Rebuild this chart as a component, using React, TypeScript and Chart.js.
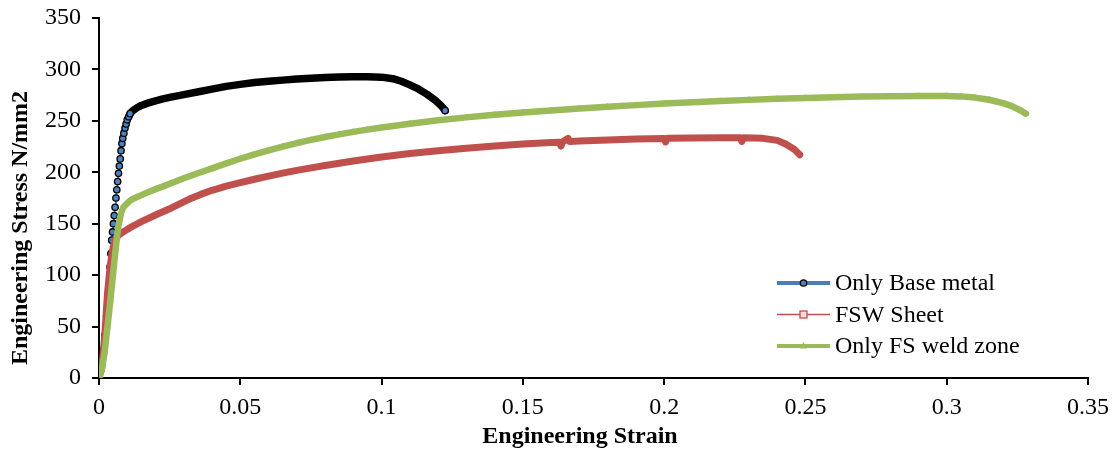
import React, { useEffect, useRef } from "react";
import { Chart, registerables } from "chart.js";

Chart.register(...registerables);

const FONT = '"Liberation Serif", "Times New Roman", serif';

const seriesNames = ["Only Base metal", "FSW Sheet", "Only FS weld zone"];
const xTickLabels = ["0", "0.05", "0.1", "0.15", "0.2", "0.25", "0.3", "0.35"];
const yTickLabels = ["0", "50", "100", "150", "200", "250", "300", "350"];
const xTitle = "Engineering Strain";
const yTitle = "Engineering Stress N/mm2";

const baseStrain = [
  0, 0.0008, 0.0015, 0.0021, 0.0027, 0.0031, 0.0035, 0.0039, 0.0042, 0.0045, 0.0048, 0.0051,
  0.0054, 0.0057, 0.006, 0.0063, 0.0066, 0.0069, 0.0072, 0.0075, 0.0078, 0.0081, 0.0084,
  0.0088, 0.0092, 0.0096, 0.01, 0.0105, 0.011, 0.012, 0.0133, 0.015, 0.0175, 0.02, 0.0226,
  0.025, 0.03, 0.0357, 0.04, 0.045, 0.05, 0.055, 0.06, 0.065, 0.07, 0.075, 0.08, 0.085, 0.09,
  0.095, 0.1, 0.104, 0.107, 0.11, 0.113, 0.116, 0.119, 0.121, 0.1225,
];
const baseStress = [
  0, 12, 27, 42, 60, 72, 88, 108, 121, 134, 142, 150, 158, 166, 175, 183, 191, 199, 206, 213,
  221, 228, 233, 238, 243, 247, 251, 254, 257, 260, 262.5, 265, 267.5, 269.5, 271.3, 272.8,
  275.5, 278.5, 280.8, 283.5, 285.5, 287.2, 288.5, 289.6, 290.6, 291.5, 292.2, 292.7, 293,
  293, 292.5, 291, 288.5, 285, 281, 276, 270, 265, 260,
];

const fswStrain = [
  0, 0.001, 0.002, 0.003, 0.004, 0.005, 0.006, 0.007, 0.008, 0.01, 0.0125, 0.015, 0.0169, 0.02,
  0.025, 0.0287, 0.032, 0.036, 0.04, 0.045, 0.05, 0.055, 0.06, 0.065, 0.07, 0.075, 0.08, 0.085,
  0.09, 0.095, 0.1, 0.11, 0.12, 0.13, 0.14, 0.15, 0.16, 0.163, 0.1635, 0.164, 0.166, 0.1665,
  0.17, 0.18, 0.19, 0.2, 0.2005, 0.201, 0.21, 0.22, 0.227, 0.2275, 0.228, 0.235, 0.24, 0.243,
  0.246, 0.248,
];
const fswStress = [
  0, 10, 40, 82, 110, 127, 136, 139, 141, 144.5, 148.5, 152, 154.5, 158.5, 164.5, 169.5, 174,
  178.5, 182.5, 186.5, 190, 193.2, 196.3, 199.2, 201.8, 204.3, 206.6, 208.8, 210.9, 212.9,
  214.8, 218.2, 221, 223.4, 225.6, 227.5, 229, 229.3, 225.5, 229.4, 233, 230, 230.3, 231.4,
  232.3, 232.9, 229.5, 233, 233.3, 233.5, 233.5, 230, 233.5, 233, 231, 227.5, 222.5, 217,
];

const weldStrain = [
  0, 0.001, 0.002, 0.003, 0.004, 0.005, 0.006, 0.0068, 0.0078, 0.0086, 0.01, 0.011, 0.0125,
  0.015, 0.0175, 0.02, 0.0227, 0.025, 0.03, 0.036, 0.04, 0.045, 0.05, 0.055, 0.06, 0.065, 0.07,
  0.075, 0.08, 0.085, 0.09, 0.095, 0.1, 0.11, 0.12, 0.13, 0.14, 0.15, 0.16, 0.17, 0.18, 0.19,
  0.2, 0.21, 0.22, 0.23, 0.24, 0.25, 0.26, 0.27, 0.28, 0.29, 0.3, 0.305, 0.31, 0.315, 0.32,
  0.323, 0.326, 0.328,
];
const weldStress = [
  0, 8, 25, 50, 75, 102, 128, 147, 160, 166, 170, 172.5, 174.8, 177.8, 180.8, 183.6, 186.3,
  188.8, 194.2, 200, 203.8, 208.6, 213.2, 217.5, 221.4, 225, 228.4, 231.5, 234.3, 236.9, 239.3,
  241.5, 243.5, 247.2, 250.5, 253.4, 255.9, 258.1, 260.1, 262, 263.7, 265.3, 266.8, 268.1,
  269.3, 270.4, 271.4, 272.3, 273, 273.6, 274, 274.2, 274.2, 273.8, 272.6, 270.5, 267.2,
  264.3, 260.3, 257,
];

const toPoints = (xs: number[], ys: number[]) => xs.map((x, i) => ({ x, y: ys[i] }));

const legendAndTitles = {
  id: "legendAndTitles",
  afterDraw(chart: any) {
    const ctx = chart.ctx;
    ctx.save();
    // axis titles
    ctx.fillStyle = "#000";
    ctx.font = `bold 24px ${FONT}`;
    ctx.textAlign = "center";
    ctx.textBaseline = "middle";
    ctx.fillText(xTitle, 580, 437);
    ctx.save();
    ctx.translate(21, 228);
    ctx.rotate(-Math.PI / 2);
    ctx.fillText(yTitle, 0, 0);
    ctx.restore();

    // legend
    const x0 = 777;
    const x1 = 830;
    const xm = (x0 + x1) / 2;
    const ys = [283, 314.5, 346];
    ctx.font = `24px ${FONT}`;
    ctx.textAlign = "left";
    seriesNames.forEach((name, i) => {
      const y = ys[i];
      ctx.beginPath();
      ctx.moveTo(x0, y);
      ctx.lineTo(x1, y);
      if (i === 0) {
        ctx.strokeStyle = "#4A7EBB";
        ctx.lineWidth = 4;
      } else if (i === 1) {
        ctx.strokeStyle = "#C0504D";
        ctx.lineWidth = 1.5;
      } else {
        ctx.strokeStyle = "#9BBB59";
        ctx.lineWidth = 4;
      }
      ctx.stroke();
      if (i === 0) {
        ctx.beginPath();
        ctx.arc(xm, y, 3.2, 0, Math.PI * 2);
        ctx.fillStyle = "#4F81BD";
        ctx.fill();
        ctx.strokeStyle = "#000";
        ctx.lineWidth = 1.3;
        ctx.stroke();
      } else if (i === 1) {
        ctx.fillStyle = "#F2DCDB";
        ctx.fillRect(xm - 3.5, y - 3.5, 7, 7);
        ctx.strokeStyle = "#C0504D";
        ctx.lineWidth = 1.3;
        ctx.strokeRect(xm - 3.5, y - 3.5, 7, 7);
      } else {
        ctx.beginPath();
        ctx.moveTo(xm, y - 4);
        ctx.lineTo(xm + 3.5, y + 2.5);
        ctx.lineTo(xm - 3.5, y + 2.5);
        ctx.closePath();
        ctx.fillStyle = "#9BBB59";
        ctx.fill();
      }
      ctx.fillStyle = "#000";
      ctx.fillText(name, 835, y + 1);
    });
    ctx.restore();
  },
};

export default function App() {
  const ref = useRef<HTMLCanvasElement | null>(null);

  useEffect(() => {
    document.body.style.margin = "0";
    const canvas = ref.current;
    if (!canvas) return;
    const basePts = toPoints(baseStrain, baseStress);
    const lastBase = basePts.length - 1;
    const chart = new Chart(canvas, {
      type: "line",
      data: {
        datasets: [
          {
            label: seriesNames[0],
            data: basePts,
            order: 2,
            borderColor: "#4A7EBB",
            borderWidth: 2,
            borderJoinStyle: "round",
            borderCapStyle: "round",
            segment: {
              borderColor: (c: any) => (c.p0.parsed.x >= 0.0105 ? "#000" : "#4A7EBB"),
              borderWidth: (c: any) => (c.p0.parsed.x >= 0.0105 ? 7.5 : 2),
            },
            pointStyle: "circle",
            pointRadius: (c: any) => {
              const p = c.raw;
              if (!p) return 0;
              return p.x < 0.0115 || c.dataIndex === lastBase ? 3.2 : 0;
            },
            pointBackgroundColor: "#4F81BD",
            pointBorderColor: "#000",
            pointBorderWidth: 1.3,
            tension: 0,
          } as any,
          {
            label: seriesNames[1],
            data: toPoints(fswStrain, fswStress),
            order: 1,
            borderColor: "#C0504D",
            borderWidth: 7,
            borderJoinStyle: "round",
            borderCapStyle: "round",
            pointStyle: "rect",
            pointRadius: 2.6,
            pointBackgroundColor: "#C0504D",
            pointBorderColor: "#C0504D",
            pointBorderWidth: 1,
            tension: 0,
          },
          {
            label: seriesNames[2],
            data: toPoints(weldStrain, weldStress),
            order: 0,
            borderColor: "#9BBB59",
            borderWidth: 6.5,
            borderJoinStyle: "round",
            borderCapStyle: "round",
            pointStyle: "triangle",
            pointRadius: 3.2,
            pointBackgroundColor: "#9BBB59",
            pointBorderColor: "#9BBB59",
            pointBorderWidth: 1,
            tension: 0,
          },
        ],
      },
      options: {
        responsive: false,
        animation: false,
        devicePixelRatio: 1,
        layout: { padding: { top: 18, right: 25, left: 0, bottom: 0 } },
        plugins: {
          legend: { display: false },
          tooltip: { enabled: false },
          title: { display: false },
        },
        scales: {
          x: {
            type: "linear",
            min: 0,
            max: 0.35,
            afterFit: (s: any) => {
              s.height = 72;
              s.paddingLeft = 0;
              s.paddingRight = 0;
              s.paddingTop = 0;
              s.paddingBottom = 0;
            },
            ticks: {
              stepSize: 0.05,
              color: "#000",
              font: { family: FONT, size: 24 },
              padding: 8,
              maxRotation: 0,
              autoSkip: false,
              callback: (_v: any, i: number) => xTickLabels[i],
            },
            grid: {
              drawOnChartArea: false,
              drawTicks: true,
              tickLength: 7,
              color: "#000",
              lineWidth: 2,
            },
            border: { display: true, color: "#000", width: 2 },
          },
          y: {
            type: "linear",
            min: 0,
            max: 350,
            afterFit: (s: any) => {
              s.width = 99;
              s.paddingLeft = 0;
              s.paddingRight = 0;
              s.paddingTop = 0;
              s.paddingBottom = 0;
            },
            ticks: {
              stepSize: 50,
              color: "#000",
              font: { family: FONT, size: 24 },
              padding: 11,
              autoSkip: false,
              callback: (_v: any, i: number) => yTickLabels[i],
            },
            grid: {
              drawOnChartArea: false,
              drawTicks: true,
              tickLength: 7,
              color: "#000",
              lineWidth: 2,
            },
            border: { display: true, color: "#000", width: 2 },
          },
        },
      },
      plugins: [legendAndTitles],
    });
    return () => chart.destroy();
  }, []);

  return (
    <div style={{ width: 1113, height: 450 }}>
      <canvas ref={ref} width={1113} height={450} />
    </div>
  );
}
